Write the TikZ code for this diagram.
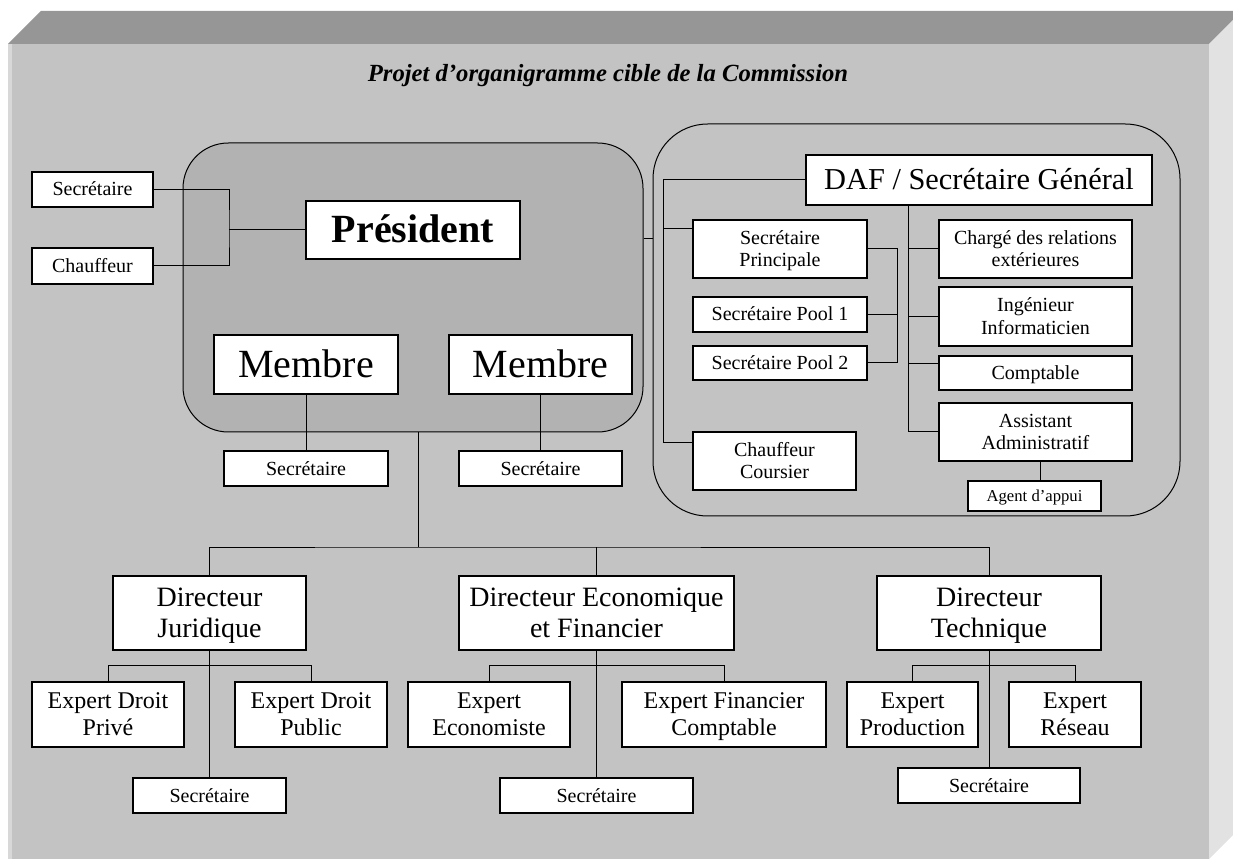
\documentclass[tikz,border=0pt]{standalone}
\usepackage{fontspec}
\setmainfont{Liberation Serif}
\definecolor{topface}{RGB}{150,150,150}
\definecolor{rightface}{RGB}{226,226,226}
\definecolor{frontface}{RGB}{195,195,195}
\definecolor{leftstrip}{RGB}{216,216,216}
\definecolor{presfill}{RGB}{178,178,178}
\tikzset{
  box/.style={draw=black, line width=0.9pt, fill=white, inner sep=0pt, align=center},
  conn/.style={draw=black, line width=0.75pt},
  fsmall/.style={font=\fontsize{15}{17}\selectfont},
  ftiny/.style={font=\fontsize{12.5}{14}\selectfont},
  fexpert/.style={font=\fontsize{18}{20}\selectfont},
  fdir/.style={font=\fontsize{21}{23}\selectfont},
  fbig/.style={font=\fontsize{30}{32}\selectfont},
  fbold/.style={font=\fontsize{30}{32}\selectfont\bfseries},
}
\newcommand\topstrut{\rule{0pt}{0.9em}}
\newcommand\botstrut{\rule[-0.25em]{0pt}{0.25em}}
\newcommand\orgbox[7]{%
  \node[box,#6,minimum width={(#4-#2)*0.75pt},minimum height={(#5-#3)*0.75pt}]
    (#1) at ({(#2+#4)/2},{(#3+#5)/2}) {\topstrut#7\botstrut};}
\begin{document}
\begin{tikzpicture}[x=0.75pt,y=-0.75pt]
\useasboundingbox (0,0) rectangle (1233,859);
% 3D frame
\begin{scope}
\clip (0,0) rectangle (1233,859);
\fill[topface] (8,44) -- (41,11) -- (1242,11) -- (1209,44) -- cycle;
\fill[rightface] (1209,44) -- (1242,11) -- (1242,826) -- (1209,859) -- cycle;
\fill[frontface] (8,44) rectangle (1209,859);
\fill[leftstrip] (8,44) rectangle (12,859);
\end{scope}
% title
\node[anchor=base, font=\fontsize{18.5}{20}\selectfont\bfseries\itshape] (title) at (608,82)
  {Projet d’organigramme cible de la Commission};
% groups
\node[draw=black, line width=0.75pt, fill=presfill, rounded corners=34pt, inner sep=0pt,
  minimum width={460*0.75pt}, minimum height={289*0.75pt}] (presgrp) at (413,287.5) {};
\node[draw=black, line width=0.75pt, rounded corners=41pt, inner sep=0pt,
  minimum width={527*0.75pt}, minimum height={392*0.75pt}] (dafgrp) at (916.5,320) {};
% coordinates for connectors
\coordinate (pj) at (229,230);
\coordinate (lk) at (648,239);
\coordinate (t0) at (418,432);
\coordinate (t1) at (418,547);
\coordinate (dv) at (663,443);
\coordinate (spj) at (663,229);
\coordinate (dv2) at (908,432);
\coordinate (cj) at (908,364);
\coordinate (agj) at (1040,470);
% boxes
\orgbox{sec1}{32}{172}{153}{207}{fsmall}{Secrétaire}
\orgbox{chf}{32}{248}{153}{284}{fsmall}{Chauffeur}
\orgbox{pres}{306}{201}{520}{259}{fbold}{Président}
\orgbox{m1}{214}{335}{398}{394}{fbig}{Membre}
\orgbox{m2}{449}{335}{632}{394}{fbig}{Membre}
\orgbox{ms1}{224}{451}{388}{486}{fsmall}{Secrétaire}
\orgbox{ms2}{459}{451}{622}{486}{fsmall}{Secrétaire}
\orgbox{daf}{806}{155}{1152}{205}{font=\fontsize{22.8}{25}\selectfont}{DAF / Secrétaire Général}
\orgbox{sp}{693}{220}{867}{278}{fsmall}{Secrétaire\\Principale}
\orgbox{p1}{693}{297}{867}{332}{fsmall}{Secrétaire Pool 1}
\orgbox{p2}{693}{346}{867}{380}{fsmall}{Secrétaire Pool 2}
\orgbox{cc}{693}{432}{856}{490}{fsmall}{Chauffeur\\Coursier}
\orgbox{cr}{939}{220}{1132}{278}{fsmall}{Chargé des relations\\extérieures}
\orgbox{ing}{939}{287}{1132}{346}{fsmall}{Ingénieur\\Informaticien}
\orgbox{comp}{939}{356}{1132}{390}{fsmall}{Comptable}
\orgbox{aa}{939}{403}{1132}{461}{fsmall}{Assistant\\Administratif}
\orgbox{ag}{968}{481}{1101}{511}{ftiny}{Agent d’appui}
\orgbox{dj}{113}{576}{306}{650}{fdir}{Directeur\\Juridique}
\orgbox{de}{459}{576}{734}{650}{fdir}{Directeur Economique\\et Financier}
\orgbox{dt}{877}{576}{1101}{650}{fdir}{Directeur\\Technique}
\orgbox{ej1}{32}{682}{184}{747}{fexpert}{Expert Droit\\Privé}
\orgbox{ej2}{235}{682}{387}{747}{fexpert}{Expert Droit\\Public}
\orgbox{ee1}{408}{682}{570}{747}{fexpert}{Expert\\Economiste}
\orgbox{ee2}{622}{682}{826}{747}{fexpert}{Expert Financier\\Comptable}
\orgbox{et1}{847}{682}{978}{747}{fexpert}{Expert\\Production}
\orgbox{et2}{1009}{682}{1141}{747}{fexpert}{Expert\\Réseau}
\orgbox{js}{133}{778}{286}{813}{fsmall}{Secrétaire}
\orgbox{es}{500}{778}{693}{813}{fsmall}{Secrétaire}
\orgbox{ts}{898}{768}{1080}{803}{fsmall}{Secrétaire}
% connectors
\draw[conn] (sec1.east) -| (pj) |- (chf.east);
\draw[conn] (pj) -- (pres.west);
\draw[conn] (m1.south) -- (ms1.north);
\draw[conn] (m2.south) -- (ms2.north -| m2.south);
\draw[conn] (presgrp.east |- lk) -- (dafgrp.west |- lk);
\draw[conn] (t0) -- (t1);
\draw[conn] (dj.north) |- (t1) -| (dt.north);
\draw[conn] (de.north) -- (de.north |- t1);
\draw[conn] (daf.west) -| (dv) -- (cc.west |- dv);
\draw[conn] (spj) -- (sp.west |- spj);
\draw[conn] (sp.east) -- ++(30,0) |- (p2.east);
\draw[conn] (p1.east) -- ++(30,0);
\draw[conn] (daf.south -| dv2) -- (dv2) -- (aa.west |- dv2);
\draw[conn] (cr.west) -- (cr.west -| dv2);
\draw[conn] (ing.west) -- (ing.west -| dv2);
\draw[conn] (cj) -- (comp.west |- cj);
\draw[conn] (aa.south -| agj) -- (ag.north -| agj);
\draw[conn] (dj.south) -- (js.north);
\draw[conn] (ej1.north) -- ++(0,-16) -| (ej2.north);
\draw[conn] (de.south) -- (es.north);
\draw[conn] (ee1.north) -- ++(0,-16) -| (ee2.north);
\draw[conn] (dt.south) -- (ts.north);
\draw[conn] (et1.north) -- ++(0,-16) -| (et2.north);
\end{tikzpicture}
\end{document}
